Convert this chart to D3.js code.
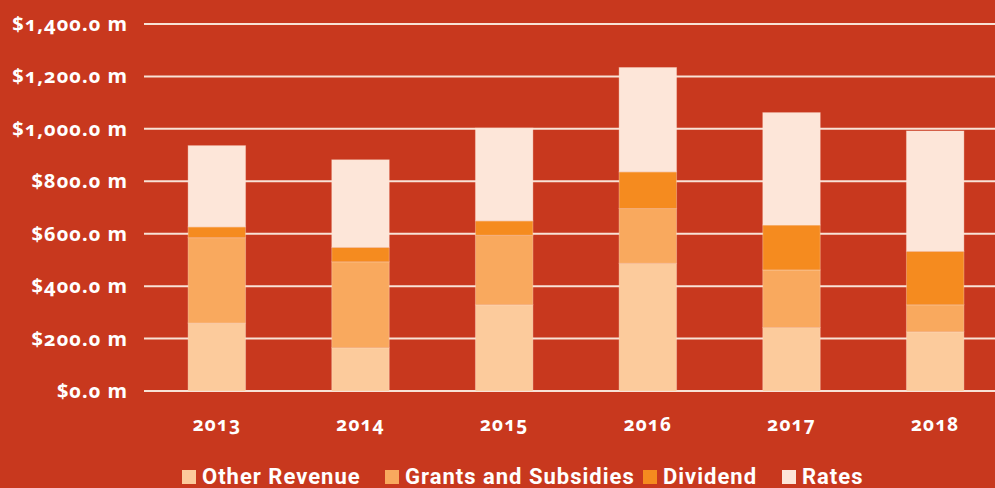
<!DOCTYPE html>
<head>
    <meta charset="utf-8">
    <title>Revenue by source</title>
    <script src="https://d3js.org/d3.v7.min.js"></script>
    <style>
        body { margin: 0; background: #c8381e; }
        svg { display: block; }
        .num { font-family: "Noto Sans", sans-serif; font-weight: bold; fill: #fff;
               font-variant-numeric: oldstyle-nums; font-feature-settings: "onum" 1; }
        .legend text { font-family: "Roboto", sans-serif; font-weight: bold; fill: #fff; letter-spacing: 1px; }
    </style>
</head>
<body>
    <script>
        const years = ["2013", "2014", "2015", "2016", "2017", "2018"]
        const otherRevenue = [259, 165, 329, 487, 242, 226]
        const grants = [326, 328, 265, 209, 220, 103]
        const dividend = [41, 55, 55, 140, 171, 204]
        const rates = [310, 334, 354, 398, 429, 459]

        const seriesNames = ["Other Revenue", "Grants and Subsidies", "Dividend", "Rates"]
        const seriesColors = ["#fccb9c", "#f9a95e", "#f58b1f", "#fde6d9"]
        const yTicks = [0, 200, 400, 600, 800, 1000, 1200, 1400]

        const width = 995
        const height = 488

        const table = years.map((yr, i) => ({
            year: yr,
            "Other Revenue": otherRevenue[i],
            "Grants and Subsidies": grants[i],
            "Dividend": dividend[i],
            "Rates": rates[i]
        }))

        const vis = d3.select("body").append("svg")
            .attr("width", width)
            .attr("height", height)

        const x = d3.scaleBand().domain(years).range([145, 1007]).paddingInner(0.6).paddingOuter(0.3)
        const y = d3.scaleLinear().domain([0, 1400]).range([391, 24])
        const color = d3.scaleOrdinal().domain(seriesNames).range(seriesColors)

        // grid
        vis.append("g")
            .selectAll("line")
            .data(yTicks)
            .join("line")
                .attr("x1", 144)
                .attr("x2", width)
                .attr("y1", (d) => y(d))
                .attr("y2", (d) => y(d))
                .attr("stroke", "#f8e2d6")
                .attr("stroke-width", 2)

        // y labels
        vis.append("g")
            .selectAll("text")
            .data(yTicks)
            .join("text")
                .attr("class", "num")
                .attr("x", 128)
                .attr("y", (d) => y(d))
                .attr("dy", "0.35em")
                .attr("text-anchor", "end")
                .style("font-size", "20px")
                .style("letter-spacing", "1px")
                .text((d) => "$" + d3.format(",.1f")(d) + " m")

        const stacked = d3.stack().keys(seriesNames)(table)

        vis.append("g")
            .selectAll("g")
            .data(stacked)
            .join("g")
                .attr("fill", (d) => color(d.key))
            .selectAll("rect")
            .data((d) => d)
            .join("rect")
                .attr("x", (d) => x(d.data.year))
                .attr("width", x.bandwidth())
                .attr("y", (d) => y(d[1]))
                .attr("height", (d) => y(d[0]) - y(d[1]))
                .attr("stroke", "rgba(255,230,215,0.35)")
                .attr("stroke-width", 1)

        // x labels
        vis.append("g")
            .selectAll("text")
            .data(years)
            .join("text")
                .attr("class", "num")
                .attr("x", (d) => x(d) + x.bandwidth() / 2)
                .attr("y", 431)
                .attr("text-anchor", "middle")
                .style("font-size", "19px")
                .style("letter-spacing", "1px")
                .text((d) => d)

        // legend
        const legendX = [182, 385, 643, 782]
        const legend = vis.append("g").attr("class", "legend")
            .selectAll("g")
            .data(seriesNames)
            .join("g")
                .attr("transform", (d, i) => `translate(${legendX[i]}, 0)`)

        legend.append("rect")
            .attr("y", 470)
            .attr("width", 14)
            .attr("height", 14)
            .attr("fill", (d) => color(d))

        legend.append("text")
            .attr("x", 20)
            .attr("y", 484)
            .style("font-size", "22px")
            .text((d) => d)
    </script>
</body>
